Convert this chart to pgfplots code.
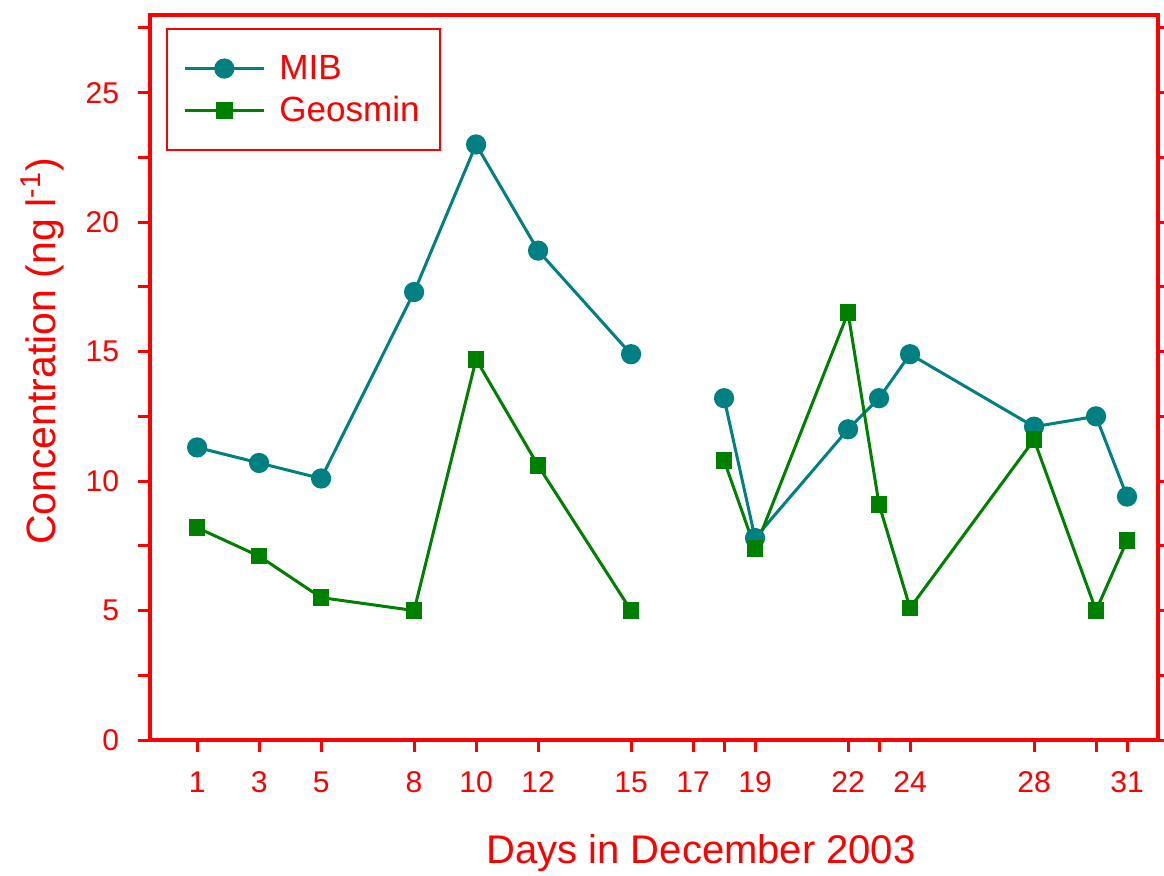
\documentclass[border=0pt]{standalone}
\usepackage{pgfplots}
\pgfplotsset{compat=1.18}
\usepackage{fontspec}
\setmainfont{Liberation Sans}
\definecolor{axred}{RGB}{255,0,0}
\definecolor{mib}{RGB}{0,128,128}
\definecolor{geo}{RGB}{0,128,0}
\begin{document}
\begin{tikzpicture}
\begin{axis}[
  scale only axis,
  width=504bp, height=362.5bp,
  xmin=-0.52, xmax=32, ymin=0, ymax=28,
  axis line style={axred, line width=2bp},
  every tick/.style={axred, line width=1.5bp},
  tick align=outside,
  major tick length=6bp,
  xtick pos=bottom, ytick pos=both,
  xtick={1,3,5,8,10,12,15,17,18,19,22,23,24,28,30,31},
  xticklabels={1,3,5,8,10,12,15,17,,19,22,,24,28,,31},
  ytick={0,2.5,...,27.5},
  yticklabels={0,,5,,10,,15,,20,,25,},
  /pgf/number format/assume math mode=true,
  tick label style={text=axred, font=\fontsize{15bp}{17bp}\selectfont},
  xticklabel style={yshift=-6.5bp},
  yticklabel style={xshift=-6bp},
  xlabel={Days in December 2003},
  ylabel={Concentration (ng l\textsuperscript{-1})},
  xlabel style={text=axred, font=\fontsize{20bp}{24bp}\selectfont, yshift=-14bp, xshift=23.5bp},
  ylabel style={text=axred, font=\fontsize{20.5bp}{24bp}\selectfont, yshift=4bp, xshift=13bp},
  legend style={draw=axred, line width=1bp, at={(0.016,0.982)}, anchor=north west,
    font=\fontsize{17.5bp}{20bp}\selectfont, text=axred,
    inner xsep=8bp, inner ysep=11bp, row sep=3bp},
  legend cell align=left,
  legend image code/.code={
    \draw[mark repeat=2,mark phase=2] plot coordinates {(0cm,0cm) (0.7cm,0cm) (1.4cm,0cm)};
    \path (1.4cm+5bp,0cm);
  },
]
\addplot[mib, line width=1.5bp, mark=*, mark size=4.3bp, mark options={solid,fill=mib}, unbounded coords=jump] coordinates {
(1,11.3) (3,10.7) (5,10.1) (8,17.3) (10,23.0) (12,18.9) (15,14.9) (17,nan)
(18,13.2) (19,7.8) (22,12.0) (23,13.2) (24,14.9) (28,12.1) (30,12.5) (31,9.4)};
\addlegendentry{MIB}
\addplot[geo, line width=1.5bp, mark=square*, mark size=3.4bp, mark options={solid,fill=geo}, unbounded coords=jump] coordinates {
(1,8.2) (3,7.1) (5,5.5) (8,5.0) (10,14.7) (12,10.6) (15,5.0) (17,nan)
(18,10.8) (19,7.4) (22,16.5) (23,9.1) (24,5.1) (28,11.6) (30,5.0) (31,7.7)};
\addlegendentry{Geosmin}
\end{axis}
\pgfresetboundingbox
\path ([shift={(-75bp,-68bp)}]current axis.south west) rectangle ([shift={(3bp,7.5bp)}]current axis.north east);
\end{tikzpicture}
\end{document}
